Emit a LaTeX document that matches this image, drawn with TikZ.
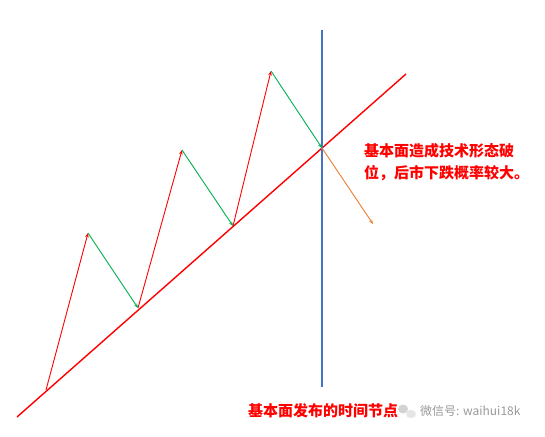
\documentclass[tikz,border=0pt]{standalone}
\usepackage{fontspec}
\usepackage{xcolor}
\usepackage{tikz}
\usetikzlibrary{arrows.meta, positioning, calc}
\newfontfamily\cjk{Noto Sans CJK SC}
\definecolor{upred}{RGB}{255,0,0}
\definecolor{downgreen}{RGB}{0,176,80}
\definecolor{timeblue}{RGB}{68,114,196}
\definecolor{breakorange}{RGB}{237,125,49}
\begin{document}
\begin{tikzpicture}[x=1pt, y=-1pt, >={Stealth[length=4.5pt, width=3.5pt]},
    every node/.style={font=\cjk\bfseries, inner sep=0pt}]
    \useasboundingbox (0,0) rectangle (545,436);
    % Trend points
    \coordinate (T0) at (17, 417);
    \coordinate (T1) at (406, 74);
    \coordinate (A0) at (46, 390);
    \coordinate (P1) at (88, 233);
    \coordinate (A1) at (138, 308);
    \coordinate (P2) at (182, 150);
    \coordinate (A2) at (233, 226);
    \coordinate (P3) at (271, 71);
    \coordinate (X) at (322, 148);
    \coordinate (D) at (373, 224);
    \coordinate (B0) at (322, 30);
    \coordinate (B1) at (322, 387);
    % Trend line
    \draw[upred, line width=1.4pt] (T0) -- (T1);
    % Time line
    \draw[timeblue, line width=2.4pt] (B0) -- (B1);
    % Rises
    \draw[->, upred, line width=0.9pt] (A0) -- (P1);
    \draw[->, upred, line width=0.9pt] (A1) -- (P2);
    \draw[->, upred, line width=0.9pt] (A2) -- (P3);
    % Pullbacks
    \draw[->, downgreen, line width=0.9pt] (P1) -- (A1);
    \draw[->, downgreen, line width=0.9pt] (P2) -- (A2);
    \draw[->, downgreen, line width=0.9pt] (P3) -- (X);
    % Break
    \draw[->, breakorange, line width=0.9pt] (X) -- (D);
    % Labels
    \node[anchor=west, text=upred, font=\cjk\bfseries\fontsize{15}{22}\selectfont, align=left] (note) at (364, 162) {基本面造成技术形态破\\位，后市下跌概率较大。};
    \node[anchor=west, text=upred, font=\cjk\bfseries\fontsize{15}{18}\selectfont] (event) at (248, 411) {基本面发布的时间节点};
    % Watermark
    \fill[gray!35] (403, 409) ellipse (5pt and 4.5pt);
    \fill[gray!20] (411, 414) ellipse (5pt and 4.2pt);
    \node[anchor=west, text=gray!80, font=\cjk\fontsize{12}{14}\selectfont] (mark) at (420, 411) {微信号: waihui18k};
\end{tikzpicture}
\end{document}
